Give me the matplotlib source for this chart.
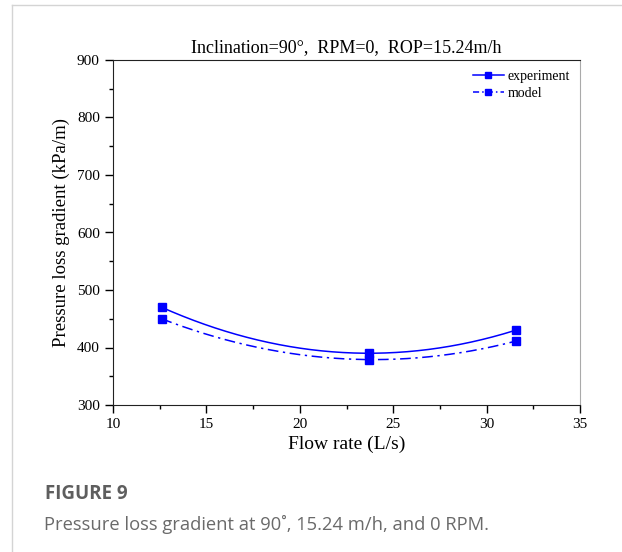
import numpy as np
import matplotlib
matplotlib.use("Agg")
import matplotlib.pyplot as plt
from matplotlib.ticker import MultipleLocator
from matplotlib.lines import Line2D

# data
flow_rate = [12.6, 23.7, 31.55]
experiment = [470, 390, 430]
model = [450, 379, 411]

blue = "#0000ff"
serif = "Liberation Serif"

fig = plt.figure(figsize=(6.22, 5.52), dpi=100)
ax = fig.add_axes([113 / 622, 1 - 405 / 552, 467 / 622, 345 / 552])

# smooth curve through the three points (as in the original)
xs = np.linspace(flow_rate[0], flow_rate[-1], 200)
for ys, ls in [(experiment, "-"), (model, (0, (7, 3, 1.5, 3)))]:
    coef = np.polyfit(flow_rate, ys, 2)
    ax.plot(xs, np.polyval(coef, xs), color=blue, lw=1.1, ls=ls)
    ax.plot(flow_rate, ys, ls="none", marker="s", ms=5.2, color=blue)

ax.set_xlim(10, 35)
ax.set_ylim(300, 900)
ax.xaxis.set_major_locator(MultipleLocator(5))
ax.xaxis.set_minor_locator(MultipleLocator(2.5))
ax.yaxis.set_major_locator(MultipleLocator(100))
ax.yaxis.set_minor_locator(MultipleLocator(50))
ax.tick_params(which="both", direction="out", top=False, right=False,
               labelsize=11, width=1)
ax.tick_params(which="major", length=6)
ax.tick_params(which="minor", length=3)
for lab in ax.get_xticklabels() + ax.get_yticklabels():
    lab.set_family(serif)

ax.spines["right"].set_color("#aaaaaa")
for s in ["left", "bottom", "top"]:
    ax.spines[s].set_color("#222222")

ax.set_xlabel("Flow rate (L/s)", family=serif, fontsize=14, labelpad=3)
ax.set_ylabel("Pressure loss gradient (kPa/m)", family=serif, fontsize=13.5,
              labelpad=5)
ax.set_title("Inclination=90°,  RPM=0,  ROP=15.24m/h", family=serif,
             fontsize=13, pad=6)

handles = [
    Line2D([], [], color=blue, lw=1.1, ls="-", marker="s", ms=5),
    Line2D([], [], color=blue, lw=1.1, ls=(0, (4, 2, 1, 2)), marker="s", ms=5),
]
ax.legend(handles, ["experiment", "model"], loc="upper right", frameon=False,
          prop={"family": serif, "size": 10}, handlelength=2.2,
          handletextpad=0.3, labelspacing=0.3, borderaxespad=0.3)

# page decoration around the figure
fig.add_artist(Line2D([12 / 622, 1], [1 - 5 / 552, 1 - 5 / 552],
                      color="#d4d4d4", lw=1, transform=fig.transFigure))
fig.add_artist(Line2D([12 / 622, 12 / 622], [0, 1 - 5 / 552],
                      color="#d4d4d4", lw=1, transform=fig.transFigure))

fig.text(45 / 622, 1 - 494 / 552, "FIGURE 9", family="Open Sans",
         fontweight="bold", fontsize=13.5, color="#5e5e5e", va="center")
fig.text(44 / 622, 1 - 524 / 552,
         "Pressure loss gradient at 90˚, 15.24 m/h, and 0 RPM.",
         family="Open Sans", fontsize=13.2, color="#6a6a6a", va="center")

fig.savefig("out.png", dpi=100)
